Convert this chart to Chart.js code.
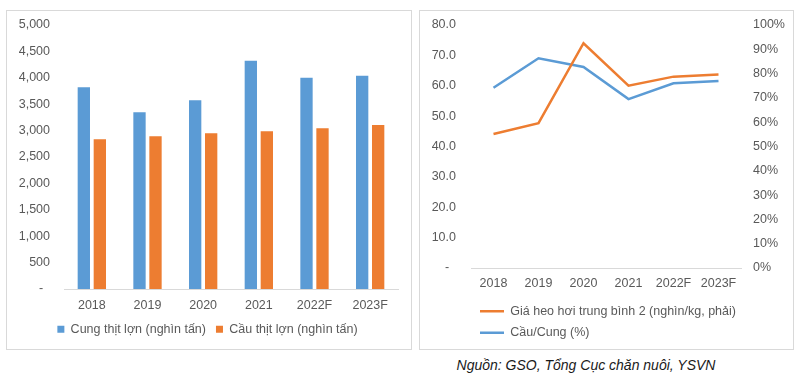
<!DOCTYPE html>
<html><head><meta charset="utf-8">
<script src="https://cdn.jsdelivr.net/npm/chart.js@4/dist/chart.umd.min.js"></script>
<style>
body{margin:0;background:#fff;width:800px;height:379px;position:relative;overflow:hidden;font-family:"Liberation Sans",Arial,sans-serif}
.box{position:absolute;border:1px solid #d9d9d9;background:#fff}
#b1{left:6px;top:10px;width:404px;height:338px}
#b2{left:419px;top:10px;width:373px;height:338px}
canvas{display:block}
#src{position:absolute;left:420px;width:332px;top:357px;text-align:center;font-style:italic;font-size:14px;line-height:16px;color:#1a1a1a}
</style></head><body>
<div class="box" id="b1"><canvas id="c1" width="404" height="338"></canvas></div>
<div class="box" id="b2"><canvas id="c2" width="373" height="338"></canvas></div>
<div id="src">Nguồn: GSO, Tổng Cục chăn nuôi, YSVN</div>
<script>
const categories = ["2018", "2019", "2020", "2021", "2022F", "2023F"];
const supply = [3820, 3346, 3574, 4324, 4002, 4040];      // Cung thịt lợn (nghìn tấn)
const demand = [2835, 2892, 2949, 2987, 3043, 3106];      // Cầu thịt lợn (nghìn tấn)
const price = [44.1, 47.7, 74.0, 60.0, 63.0, 63.7];       // Giá heo hơi trung bình
const ratio = [74.2, 86.3, 82.7, 69.5, 76.0, 77.0];       // Cầu/Cung (%)
const leftTicks = { min: 0, max: 5000, step: 500 };
const priceTicks = { min: 0, max: 80, step: 10 };
const ratioTicks = { min: 0, max: 100, step: 10 };

const TXT = '#595959';
const FONT = { family: '"Liberation Sans", Arial, sans-serif', size: 12.5 };
const BLUE = '#5B9BD5', ORANGE = '#ED7D31';
const fitW = w => s => { s.width = w; s.paddingTop = 0; s.paddingBottom = 0; };
const fitH = h => s => { s.height = h; s.paddingLeft = 0; s.paddingRight = 0; };

new Chart(document.getElementById('c1'), {
  type: 'bar',
  data: {
    labels: categories,
    datasets: [
      { label: 'Cung thịt lợn (nghìn tấn)', data: supply, backgroundColor: BLUE, borderWidth: 0,
        categoryPercentage: 0.575, barPercentage: 0.77 },
      { label: 'Cầu thịt lợn (nghìn tấn)', data: demand, backgroundColor: ORANGE, borderWidth: 0,
        categoryPercentage: 0.575, barPercentage: 0.77 }
    ]
  },
  options: {
    responsive: false, animation: false, devicePixelRatio: 1,
    layout: { padding: { left: 10, right: 13, top: 14, bottom: 3.5 } },
    plugins: {
      tooltip: { enabled: false },
      legend: { position: 'bottom', labels: { color: TXT, font: FONT, boxWidth: 7, boxHeight: 7, padding: 10 } }
    },
    scales: {
      x: { grid: { display: false, drawTicks: false }, border: { display: true, color: '#d9d9d9', width: 1 },
           ticks: { color: TXT, font: FONT, padding: 9 },
           afterFit: fitH(24) },
      y: { min: leftTicks.min, max: leftTicks.max, grid: { display: false, drawTicks: false }, border: { display: false },
           ticks: { stepSize: leftTicks.step, color: TXT, font: FONT, padding: 14,
             callback: v => v === 0 ? '-  ' : v.toLocaleString('en-US') },
           afterFit: fitW(47) }
    }
  }
});

new Chart(document.getElementById('c2'), {
  type: 'line',
  data: {
    labels: categories,
    datasets: [
      { label: 'Giá heo hơi trung bình 2 (nghìn/kg, phải)', data: price, borderColor: ORANGE, backgroundColor: ORANGE,
        borderWidth: 2.5, pointRadius: 0, tension: 0, yAxisID: 'y' },
      { label: 'Cầu/Cung (%)', data: ratio, borderColor: BLUE, backgroundColor: BLUE,
        borderWidth: 2.5, pointRadius: 0, tension: 0, yAxisID: 'y2' }
    ]
  },
  options: {
    responsive: false, animation: false, devicePixelRatio: 1,
    layout: { padding: { left: 0, right: 0, top: 14, bottom: 0 } },
    plugins: {
      tooltip: { enabled: false },
      legend: { position: 'bottom', fullSize: false, align: 'start',
        labels: { color: TXT, font: FONT, usePointStyle: true, pointStyle: 'line', pointStyleWidth: 24, boxHeight: 10, padding: 9 } }
    },
    scales: {
      x: { offset: true, grid: { display: false, drawTicks: false }, border: { display: true, color: '#d9d9d9', width: 1 },
           ticks: { color: TXT, font: FONT, padding: 8 },
           afterFit: fitH(28) },
      y: { position: 'left', min: priceTicks.min, max: priceTicks.max, grid: { display: false, drawTicks: false }, border: { display: false },
           ticks: { stepSize: priceTicks.step, color: TXT, font: FONT, padding: 15,
             callback: v => v === 0 ? '-  ' : v.toFixed(1) },
           afterFit: fitW(51) },
      y2: { position: 'right', min: ratioTicks.min, max: ratioTicks.max, grid: { display: false, drawTicks: false }, border: { display: false },
           ticks: { stepSize: ratioTicks.step, color: TXT, font: FONT, padding: 12,
             callback: v => v + '%' },
           afterFit: fitW(52) }
    }
  }
});
</script>
</body></html>
